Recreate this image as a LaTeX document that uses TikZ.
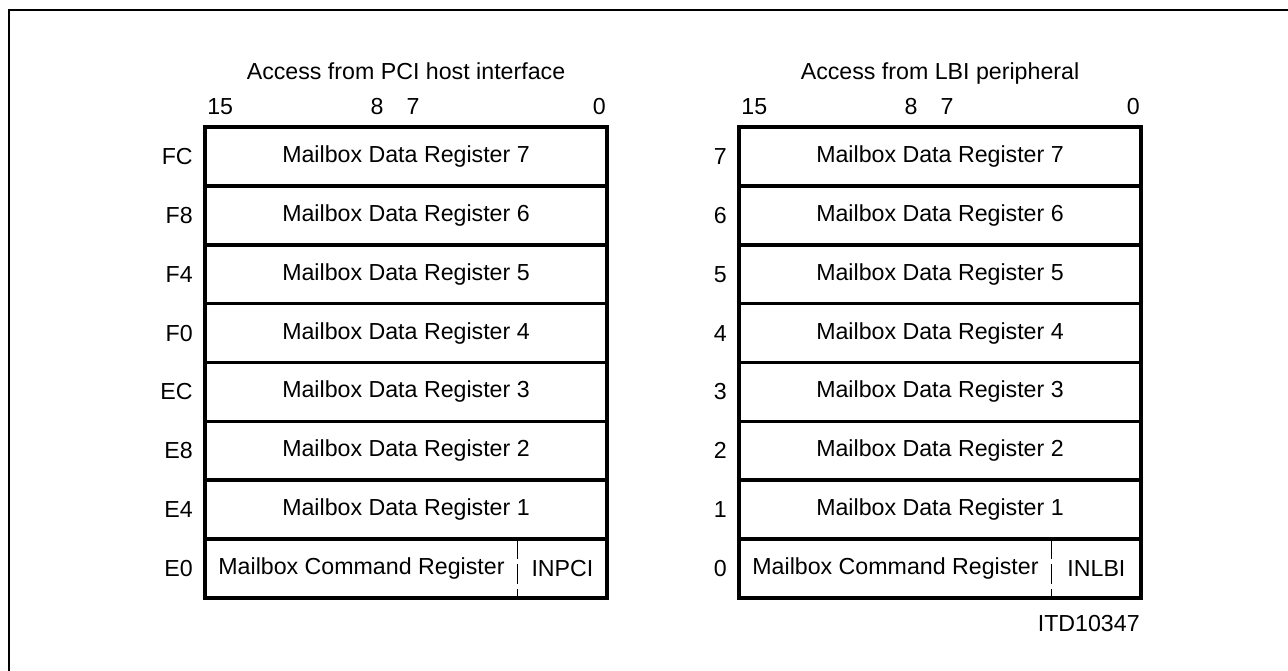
\documentclass[tikz,border=0pt]{standalone}
\usepackage{fontspec}
\setmainfont{Liberation Sans}
\usetikzlibrary{positioning}
\definecolor{ink}{HTML}{000000}

\begin{document}
\begin{tikzpicture}[
  x=0.02cm,y=-0.02cm,
  text=ink,
  font=\fontsize{13.2}{15}\selectfont,
  frame/.style={draw=ink,line width=2pt},
  reg/.style={frame,minimum width=8.04cm,minimum height=1.1775cm,
    inner sep=0pt,outer sep=0pt},
  part/.style={minimum height=1.1775cm,inner sep=0pt,outer sep=0pt},
  label/.style={inner sep=0pt},
  split/.style={draw=ink,line width=.6pt,dash pattern=on .4cm off .1cm}
]
  \clip (0,0) rectangle (1288,671);
  \draw[draw=ink,line width=1.3pt] (9,10) rectangle (1320,720);

  \foreach \name/\x/\title/\flag/\addr in {
    pci/205/{Access from PCI host interface}/INPCI/{FC,F8,F4,F0,EC,E8,E4,E0},
    lbi/739/{Access from LBI peripheral}/INLBI/{7,6,5,4,3,2,1,0}}{
    \node[label,anchor=base] (\name title) at (\x+201,80) {\title};
    \node[label,anchor=base west] (\name b15) at (\x+2,115) {15};
    \node[label,anchor=base] (\name b8) at (\x+172,115) {8};
    \node[label,anchor=base] (\name b7) at (\x+208,115) {7};
    \node[label,anchor=base east] (\name b0) at (\x+401,115) {0};
    \foreach \a [count=\k from 0] in \addr {
      \ifnum\k<7
        \pgfmathtruncatemacro\r{7-\k}
        \node[reg] (\name\k) at (\x+201,{156.44+58.875*\k})
          {Mailbox Data Register \r};
      \else
        \node[part,minimum width=6.26cm,anchor=north west] (\name\k)
          at (\x,539.125) {Mailbox Command Register};
        \node[part,minimum width=1.78cm,right=0pt of \name\k] (\name flag)
          {\flag};
        \draw[frame] (\name\k.north west) rectangle (\name flag.south east);
        \draw[split] (\name flag.north west) -- (\name flag.south west);
      \fi
      \node[label,left=.24cm of \name\k] (\name addr\k) {\a};
    }
  }
  \node[label,anchor=base east] (itd) at (1140,632) {ITD10347};
\end{tikzpicture}
\end{document}
